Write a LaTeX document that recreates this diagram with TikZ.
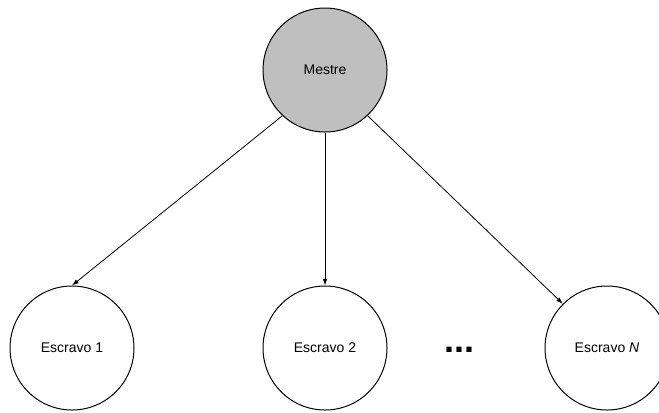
\documentclass[tikz,border=0pt]{standalone}
\usepackage{fontspec}
\setmainfont{Liberation Sans}
\usetikzlibrary{arrows.meta}
\begin{document}
\begin{tikzpicture}[x=0.75pt,y=-0.75pt,
  proc/.style={circle,draw=black,line width=0.75pt,minimum size=93pt,inner sep=0pt,
    font=\fontsize{10.5}{12}\selectfont},
  master/.style={proc,fill=black!25},
  link/.style={line width=0.6pt,-{Latex[length=5pt,width=3.5pt]}}]
\useasboundingbox (0,0) rectangle (659,412);
\node[master] (m) at (325,70) {Mestre};
\node[proc] (e1) at (72,348) {Escravo 1};
\node[proc] (e2) at (325,348) {Escravo 2};
\node[proc] (en) at (607,348) {Escravo \emph{N}};
\node[font=\fontsize{27}{30}\selectfont\bfseries,inner sep=0pt,anchor=base] (dots) at (459,352) {...};
\draw[link] (m.227) -- (e1.north);
\draw[link] (m.south) -- (e2.north);
\draw[link] (m.-47) -- (en.135);
\end{tikzpicture}
\end{document}
